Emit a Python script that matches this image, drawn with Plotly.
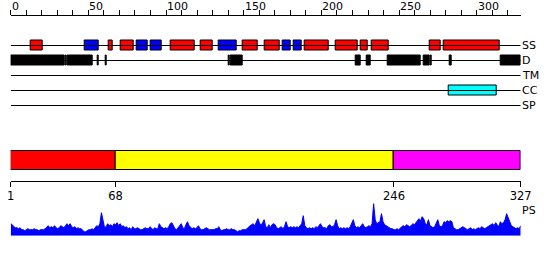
import plotly.graph_objects as go

W, H = 550, 260
FONT = "DejaVu Sans"

# ---- data ----
seq_len = 327
track_names = ["SS", "D", "TM", "CC", "SP"]

ss_start = [12.6, 47.4, 62.8, 70.5, 80.9, 90.3, 102.7, 122.0, 133.6, 149.1, 163.7,
            174.8, 181.9, 189.0, 209.0, 225.0, 232.1, 269.5, 278.5]
ss_end = [20.6, 56.6, 65.7, 79.2, 88.2, 97.4, 118.4, 130.0, 145.5, 159.0, 172.9,
          180.2, 187.3, 204.7, 223.4, 229.9, 243.3, 276.5, 314.8]
ss_type = ["H", "E", "H", "H", "E", "E", "H", "H", "E", "H", "H",
           "E", "E", "H", "H", "H", "H", "H", "H"]

d_start = [0.0, 35.3, 36.6, 37.6, 55.7, 60.9, 140.5, 141.8, 222.3, 229.2, 242.9,
           265.6, 270.3, 282.3, 315.6]
d_end = [34.8, 35.8, 37.1, 52.8, 56.4, 61.5, 141.2, 149.3, 225.3, 231.9, 263.9,
         269.5, 271.2, 284.1, 328.0]

cc_start = [281.7]
cc_end = [312.8]

top_tick_labels = [0, 50, 100, 150, 200, 250, 300]

dom_start = [1, 68, 246]
dom_end = [68, 246, 327]
dom_color = ["#ff0000", "#ffff00", "#ff00ff"]

ps = [12, 11, 9, 8, 8, 7, 8, 6, 6, 5,
      6, 7, 6, 6, 6, 7, 6, 6, 5, 6,
      6, 6, 7, 9, 10, 8, 9, 8, 10, 8,
      7, 8, 10, 9, 8, 10, 12, 10, 12, 9,
      8, 9, 7, 8, 7, 7, 5, 4, 4, 5,
      6, 6, 7, 6, 8, 10, 9, 12, 23, 14,
      8, 9, 12, 10, 11, 9, 12, 11, 13, 10,
      12, 9, 10, 8, 9, 7, 8, 6, 9, 7,
      7, 8, 7, 6, 6, 7, 8, 7, 7, 9,
      7, 6, 8, 7, 7, 12, 9, 8, 7, 8,
      7, 9, 12, 13, 9, 7, 6, 8, 11, 12,
      8, 7, 11, 14, 10, 8, 7, 8, 7, 8,
      10, 7, 6, 6, 7, 8, 7, 6, 6, 6,
      6, 7, 7, 9, 6, 5, 6, 6, 7, 6,
      6, 7, 6, 6, 5, 4, 5, 5, 6, 6,
      6, 7, 9, 10, 11, 12, 10, 13, 17, 13,
      10, 13, 16, 9, 8, 11, 8, 11, 12, 11,
      8, 7, 8, 9, 7, 9, 14, 9, 8, 9,
      8, 9, 8, 9, 8, 10, 12, 20, 10, 8,
      7, 8, 7, 8, 7, 9, 8, 10, 12, 9,
      8, 8, 7, 10, 11, 9, 9, 11, 16, 10,
      7, 8, 7, 8, 7, 8, 7, 9, 12, 16,
      10, 8, 9, 8, 10, 12, 9, 8, 9, 10,
      9, 12, 32, 16, 12, 13, 14, 22, 14, 11,
      10, 9, 8, 7, 7, 6, 6, 7, 6, 8,
      9, 10, 9, 11, 10, 9, 10, 12, 11, 13,
      15, 17, 15, 19, 17, 12, 11, 16, 10, 9,
      8, 9, 12, 16, 10, 9, 10, 14, 13, 15,
      14, 15, 14, 8, 7, 6, 6, 7, 8, 9,
      8, 7, 6, 7, 8, 6, 7, 6, 7, 8,
      7, 9, 8, 7, 8, 9, 10, 11, 12, 10,
      13, 11, 9, 14, 12, 13, 16, 22, 18, 14,
      10, 9, 8, 7, 8, 7, 10]
ps_pos = list(range(1, len(ps) + 1))

# ---- layout constants (pixels) ----
X0, X1 = 10.7, 520.7
TOP_MAX = 328.3
AX_TOP = 15.5          # top axis line (px)
TRK_BOT = 120.0        # bottom of track panel (px)
row_y = {"SS": 45.5, "D": 60.5, "TM": 75.5, "CC": 90.5, "SP": 105.5}
BOX_H = 10
DOM_TOP, AX_BOT = 140.0, 180.5
dom_y, DOM_H = 160.5, 19
ps_base_px, ps_top_px = 235.7, 195.7

fig = go.Figure()

# track baselines
for name in track_names:
    fig.add_trace(go.Scatter(x=[0, TOP_MAX], y=[row_y[name]] * 2, mode="lines",
                             line=dict(color="black", width=1), xaxis="x", yaxis="y2",
                             hoverinfo="skip", showlegend=False, cliponaxis=False))

ss_color = {"H": "#ff0000", "E": "#0000ff"}


def add_boxes(starts, ends, colors, ypix, height, xa, ya):
    fig.add_trace(go.Bar(
        orientation="h",
        base=starts,
        x=[e - s for s, e in zip(starts, ends)],
        y=[ypix] * len(starts),
        width=height,
        marker=dict(color=colors, line=dict(color="black", width=1)),
        cliponaxis=False,
        xaxis=xa, yaxis=ya, showlegend=False, hoverinfo="skip"))


add_boxes(ss_start, ss_end, [ss_color[t] for t in ss_type], row_y["SS"], BOX_H, "x", "y2")
add_boxes(d_start, d_end, ["black"] * len(d_start), row_y["D"], BOX_H, "x", "y2")
add_boxes(cc_start, cc_end, ["#00ffff"] * len(cc_start), row_y["CC"], BOX_H, "x", "y2")

# domain bar
add_boxes(dom_start, dom_end, dom_color, dom_y, DOM_H, "x2", "y4")

# PS profile
fig.add_trace(go.Scatter(x=ps_pos, y=ps, mode="lines", fill="tozeroy",
                         line=dict(color="#0000ff", width=1), fillcolor="#0000ff",
                         xaxis="x2", yaxis="y3", showlegend=False, hoverinfo="skip"))

txt_font = dict(family=FONT, size=11, color="black")
annotations = []
for v in top_tick_labels:
    annotations.append(dict(x=v, xref="x", y=1 - 6.5 / H, yref="paper", text=str(v),
                            showarrow=False, xanchor="left", yanchor="middle", xshift=-1,
                            font=txt_font))
for name in track_names:
    annotations.append(dict(x=520.5 / W, xref="paper", y=1 - row_y[name] / H, yref="paper",
                            text=name, showarrow=False, xanchor="left", yanchor="middle",
                            xshift=-1, font=txt_font))
annotations.append(dict(x=521 / W, xref="paper", y=1 - 210.5 / H, yref="paper", text="PS",
                        showarrow=False, xanchor="left", yanchor="middle", xshift=-1,
                        font=txt_font))

bottom_ticks = [dom_start[0]] + dom_end

hidden = dict(visible=False, showgrid=False, zeroline=False, fixedrange=True,
              automargin=False)

fig.update_layout(
    template="none",
    width=W, height=H,
    margin=dict(l=0, r=0, t=0, b=0, pad=0),
    paper_bgcolor="white", plot_bgcolor="rgba(0,0,0,0)",
    barmode="overlay", bargap=0,
    showlegend=False,
    annotations=annotations,
    xaxis=dict(domain=[X0 / W, X1 / W], range=[0, TOP_MAX], anchor="y2",
               side="top", showline=True, linecolor="black",
               linewidth=1, ticks="outside", ticklen=5, tickcolor="black", tickwidth=1,
               tick0=0, dtick=10, showticklabels=False, showgrid=False, zeroline=False,
               fixedrange=True, automargin=False),
    xaxis2=dict(domain=[X0 / W, X1 / W], range=[1, seq_len], anchor="y4",
                side="bottom", showline=True, linecolor="black",
                linewidth=1, ticks="outside", ticklen=5, tickcolor="black", tickwidth=1,
                tickvals=bottom_ticks, ticktext=[str(t) for t in bottom_ticks],
                tickfont=dict(family=FONT, size=11.5, color="black"),
                showgrid=False, zeroline=False, fixedrange=True, automargin=False),
    yaxis2=dict(domain=[1 - TRK_BOT / H, 1 - AX_TOP / H], range=[TRK_BOT, AX_TOP],
                anchor="x", **hidden),
    yaxis4=dict(domain=[1 - AX_BOT / H, 1 - DOM_TOP / H], range=[AX_BOT, DOM_TOP],
                anchor="x2", **hidden),
    yaxis3=dict(domain=[1 - ps_base_px / H, 1 - ps_top_px / H],
                range=[0, ps_base_px - ps_top_px], anchor="x2", **hidden),
)

fig.write_html("out.html", config={"displayModeBar": False})
